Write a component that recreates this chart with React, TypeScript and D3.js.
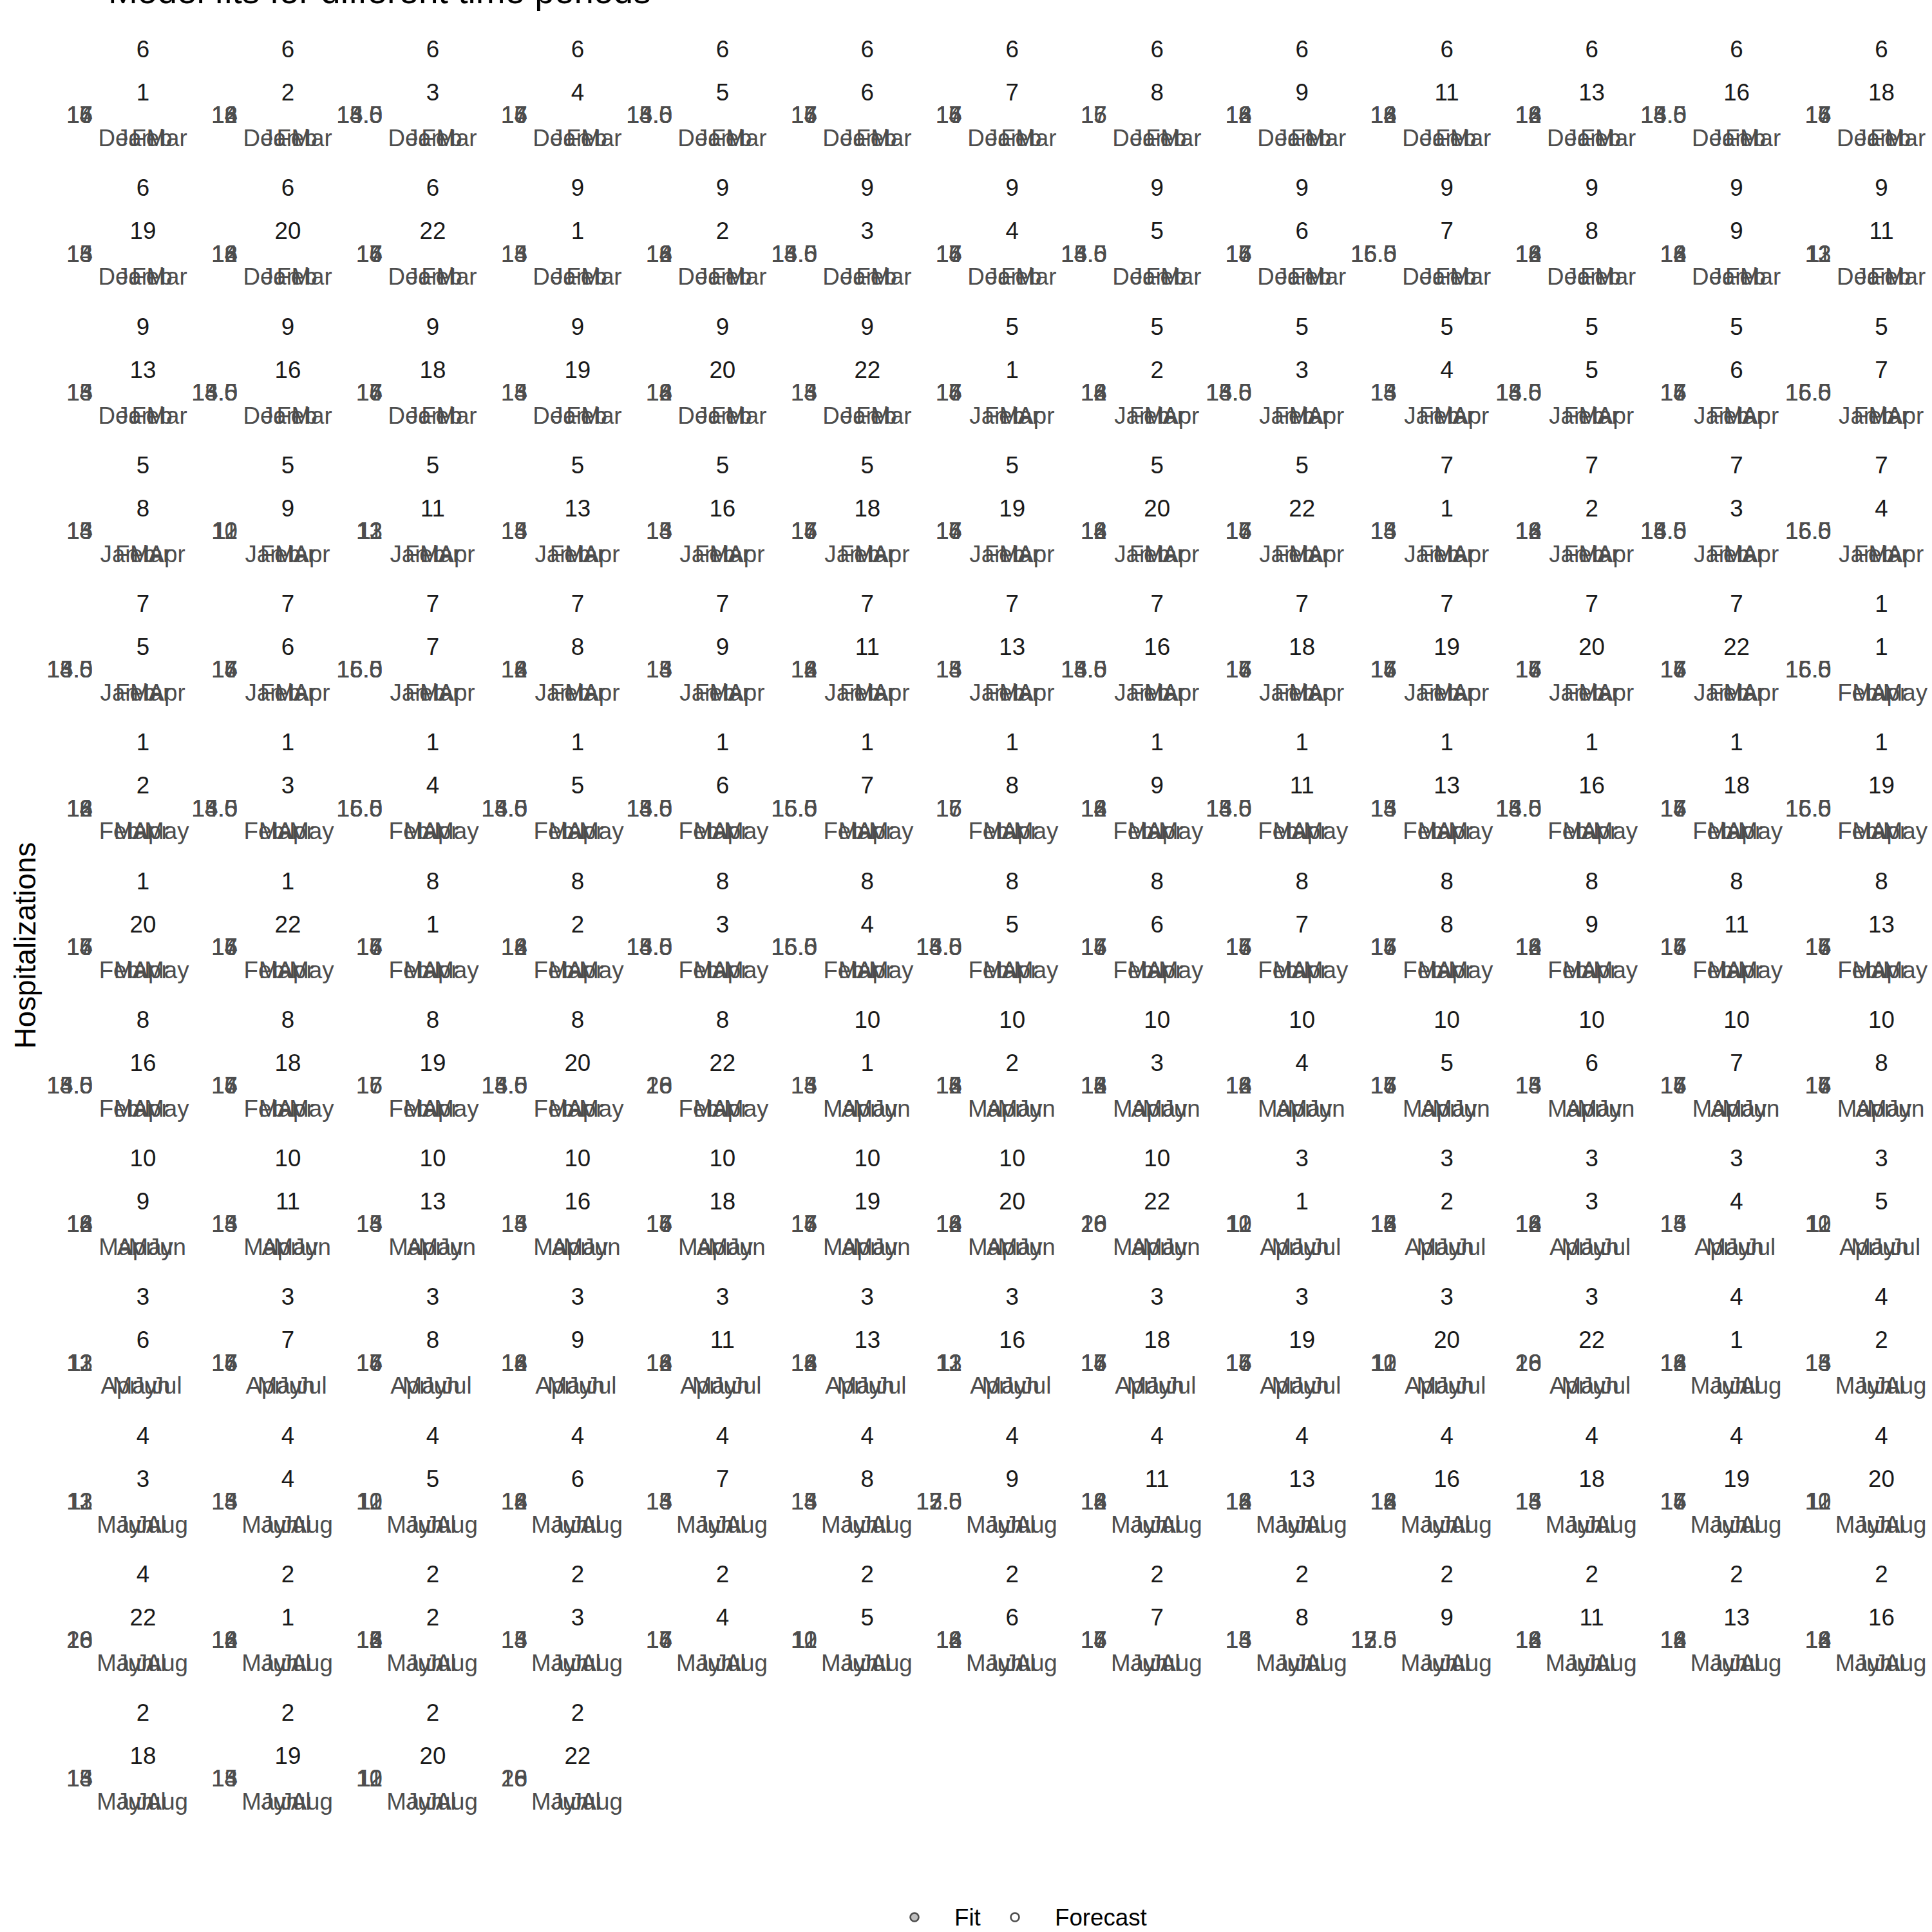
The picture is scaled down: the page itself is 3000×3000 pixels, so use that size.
import * as d3 from "d3";
import React, { useEffect, useRef } from "react";

// facet order as it appears in the plot: forecast month group, then start day
const GROUPS = [6, 9, 5, 7, 1, 8, 10, 3, 4, 2];
const DAYS = [1, 2, 3, 4, 5, 6, 7, 8, 9, 11, 13, 16, 18, 19, 20, 22];

// month breaks shown on each group's x axis
const GROUP_MONTHS = [
  ["2020-12-01", "2021-01-01", "2021-02-01", "2021-03-01"],
  ["2020-12-01", "2021-01-01", "2021-02-01", "2021-03-01"],
  ["2021-01-01", "2021-02-01", "2021-03-01", "2021-04-01"],
  ["2021-01-01", "2021-02-01", "2021-03-01", "2021-04-01"],
  ["2021-02-01", "2021-03-01", "2021-04-01", "2021-05-01"],
  ["2021-02-01", "2021-03-01", "2021-04-01", "2021-05-01"],
  ["2021-03-01", "2021-04-01", "2021-05-01", "2021-06-01"],
  ["2021-04-01", "2021-05-01", "2021-06-01", "2021-07-01"],
  ["2021-05-01", "2021-06-01", "2021-07-01", "2021-08-01"],
  ["2021-05-01", "2021-06-01", "2021-07-01", "2021-08-01"],
];

// y breaks of every panel (free scales), one line per facet row
const Y_TICKS = [
  [14, 15, 16, 17], [12, 14, 16, 18], [13.5, 14, 14.5, 15], [14, 15, 16, 17], [13.5, 14, 14.5, 15], [14, 15, 16, 17], [14, 15, 16, 17], [15, 16, 17], [12, 14, 16, 18], [12, 14, 16, 18], [12, 14, 16, 18], [13.5, 14, 14.5, 15], [14, 15, 16, 17],
  [13, 14, 15], [12, 14, 16, 18], [14, 15, 16, 17], [13, 14, 15], [12, 14, 16, 18], [13.5, 14, 14.5, 15], [14, 15, 16, 17], [13.5, 14, 14.5, 15], [14, 15, 16, 17], [15, 15.5, 16, 16.5], [12, 14, 16, 18], [12, 14, 16, 18], [11, 12, 13],
  [13, 14, 15], [13.5, 14, 14.5, 15], [14, 15, 16, 17], [13, 14, 15], [12, 14, 16, 18], [13, 14, 15], [14, 15, 16, 17], [12, 14, 16, 18], [13.5, 14, 14.5, 15], [13, 14, 15], [13.5, 14, 14.5, 15], [14, 15, 16, 17], [15, 15.5, 16, 16.5],
  [13, 14, 15], [10, 11, 12], [11, 12, 13], [13, 14, 15], [13, 14, 15], [14, 15, 16, 17], [14, 15, 16, 17], [12, 14, 16, 18], [14, 15, 16, 17], [13, 14, 15], [12, 14, 16, 18], [13.5, 14, 14.5, 15], [15, 15.5, 16, 16.5],
  [13.5, 14, 14.5, 15], [14, 15, 16, 17], [15, 15.5, 16, 16.5], [12, 14, 16, 18], [13, 14, 15], [12, 14, 16, 18], [13, 14, 15], [13.5, 14, 14.5, 15], [14, 15, 16, 17], [14, 15, 16, 17], [14, 15, 16, 17], [14, 15, 16, 17], [15, 15.5, 16, 16.5],
  [12, 14, 16, 18], [13.5, 14, 14.5, 15], [15, 15.5, 16, 16.5], [13.5, 14, 14.5, 15], [13.5, 14, 14.5, 15], [15, 15.5, 16, 16.5], [15, 16, 17], [12, 14, 16, 18], [13.5, 14, 14.5, 15], [13, 14, 15], [13.5, 14, 14.5, 15], [14, 15, 16, 17], [15, 15.5, 16, 16.5],
  [14, 15, 16, 17], [14, 15, 16, 17], [14, 15, 16, 17], [12, 14, 16, 18], [13.5, 14, 14.5, 15], [15, 15.5, 16, 16.5], [13.5, 14, 14.5, 15], [14, 15, 16, 17], [14, 15, 16, 17], [14, 15, 16, 17], [12, 14, 16, 18], [14, 15, 16, 17], [14, 15, 16, 17],
  [13.5, 14, 14.5, 15], [14, 15, 16, 17], [15, 16, 17], [13.5, 14, 14.5, 15], [16, 18, 20], [13, 14, 15], [12, 13, 14, 15, 16], [12, 13, 14, 15, 16], [12, 14, 16, 18], [14, 15, 16, 17], [13, 14, 15], [14, 15, 16, 17], [14, 15, 16, 17],
  [12, 14, 16, 18], [13, 14, 15], [13, 14, 15], [13, 14, 15], [14, 15, 16, 17], [14, 15, 16, 17], [12, 14, 16, 18], [16, 18, 20], [10, 11, 12], [12, 13, 14, 15, 16], [12, 14, 16, 18], [13, 14, 15], [10, 11, 12],
  [11, 12, 13], [14, 15, 16, 17], [14, 15, 16, 17], [12, 14, 16, 18], [12, 14, 16, 18], [12, 14, 16, 18], [11, 12, 13], [14, 15, 16, 17], [14, 15, 16, 17], [10, 11, 12], [16, 18, 20], [12, 14, 16, 18], [13, 14, 15],
  [11, 12, 13], [13, 14, 15], [10, 11, 12], [12, 14, 16, 18], [13, 14, 15], [13, 14, 15], [12.5, 15, 17.5], [12, 14, 16, 18], [12, 14, 16, 18], [12, 14, 16, 18], [13, 14, 15], [14, 15, 16, 17], [10, 11, 12],
  [16, 18, 20], [12, 14, 16, 18], [12, 13, 14, 15, 16], [13, 14, 15], [14, 15, 16, 17], [10, 11, 12], [12, 14, 16, 18], [14, 15, 16, 17], [13, 14, 15], [12.5, 15, 17.5], [12, 14, 16, 18], [12, 14, 16, 18], [12, 14, 16, 18],
  [13, 14, 15], [13, 14, 15], [10, 11, 12], [16, 18, 20],
];

const LEGEND = [
  { key: "Fit", fill: "#BEBEBE" },
  { key: "Forecast", fill: "#FFFFFF" },
];

const FONT = "'Liberation Sans', Arial, Helvetica, sans-serif";
const WIDTH = 3000;
const HEIGHT = 3000;
const NCOL = 13;
const COL0 = 222;
const COL_STEP = 224.96;
const ROW_STEP = 215.25;
const HALF_PANEL = 53;

function App() {
  const svgRef = useRef(null);

  useEffect(() => {
    document.body.style.margin = "0";
    const svg = d3.select(svgRef.current);
    svg.selectAll("*").remove();

    svg
      .append("rect")
      .attr("width", WIDTH)
      .attr("height", HEIGHT)
      .attr("fill", "#FFFFFF");

    const panels = [];
    GROUPS.forEach((group, gi) =>
      DAYS.forEach((day) => panels.push({ group, gi, day }))
    );

    const fmtMonth = d3.utcFormat("%b");

    panels.forEach((p, i) => {
      const row = Math.floor(i / NCOL);
      const col = i % NCOL;
      const cx = COL0 + col * COL_STEP;
      const top = row * ROW_STEP;
      const py = top + 179;
      const g = svg.append("g").attr("class", "panel");

      // strips
      g.append("text")
        .attr("x", cx)
        .attr("y", top + 76.5)
        .attr("dominant-baseline", "central")
        .text(p.group);
      g.append("text")
        .attr("x", cx)
        .attr("y", top + 143.5)
        .attr("dominant-baseline", "central")
        .text(p.day);
      g.selectAll("text")
        .attr("text-anchor", "middle")
        .attr("font-family", FONT)
        .attr("font-size", 36.7)
        .attr("fill", "#1A1A1A");

      // collapsed panel: both scales squeezed to the zero-height panel
      const months = GROUP_MONTHS[p.gi].map((s) => new Date(s));
      const xScale = d3
        .scaleUtc()
        .domain([
          d3.utcDay.offset(months[0], -19),
          d3.utcDay.offset(months[months.length - 1], 20),
        ])
        .range([cx - HALF_PANEL, cx + HALF_PANEL]);

      const ticks = Y_TICKS[i];
      const yScale = d3.scaleLinear().domain(d3.extent(ticks)).range([py, py]);
      const yFmt = ticks.some((t) => !Number.isInteger(t))
        ? d3.format(".1f")
        : d3.format("d");

      const yAxis = g
        .append("g")
        .attr("transform", `translate(${cx - HALF_PANEL},0)`)
        .call(
          d3
            .axisLeft(yScale)
            .tickValues(ticks)
            .tickFormat(yFmt)
            .tickSize(0)
            .tickPadding(25)
        );

      const xAxis = g
        .append("g")
        .attr("transform", `translate(0,${py})`)
        .call(
          d3
            .axisBottom(xScale)
            .tickValues(months)
            .tickFormat(fmtMonth)
            .tickSize(0)
            .tickPadding(22)
        );

      [yAxis, xAxis].forEach((ax) => {
        ax.select(".domain").remove();
        ax.attr("font-family", FONT)
          .attr("font-size", 36.7)
          .attr("color", "#4D4D4D");
      });
    });

    // title (mostly pushed off the top of the canvas)
    svg
      .append("text")
      .attr("x", 168)
      .attr("y", 5)
      .attr("font-family", FONT)
      .attr("font-size", 55)
      .attr("fill", "#000000")
      .text("Model fits for different time periods");

    // y axis title
    svg
      .append("text")
      .attr("transform", "translate(55,1468) rotate(-90)")
      .attr("text-anchor", "middle")
      .attr("font-family", FONT)
      .attr("font-size", 45.8)
      .attr("fill", "#000000")
      .text("Hospitalizations");

    // legend
    const legendX = d3
      .scalePoint()
      .domain(LEGEND.map((d) => d.key))
      .range([1420, 1576]);
    const legend = svg
      .append("g")
      .selectAll("g")
      .data(LEGEND)
      .join("g")
      .attr("transform", (d) => `translate(${legendX(d.key)},2977)`);
    legend
      .append("circle")
      .attr("r", 6.5)
      .attr("fill", (d) => d.fill)
      .attr("stroke", "#4D4D4D")
      .attr("stroke-width", 2.6);
    legend
      .append("text")
      .attr("x", 62)
      .attr("dominant-baseline", "central")
      .attr("font-family", FONT)
      .attr("font-size", 36.7)
      .attr("fill", "#000000")
      .text((d) => d.key);
  }, []);

  return (
    <svg
      ref={svgRef}
      width={WIDTH}
      height={HEIGHT}
      style={{ display: "block" }}
    />
  );
}

export default App;
